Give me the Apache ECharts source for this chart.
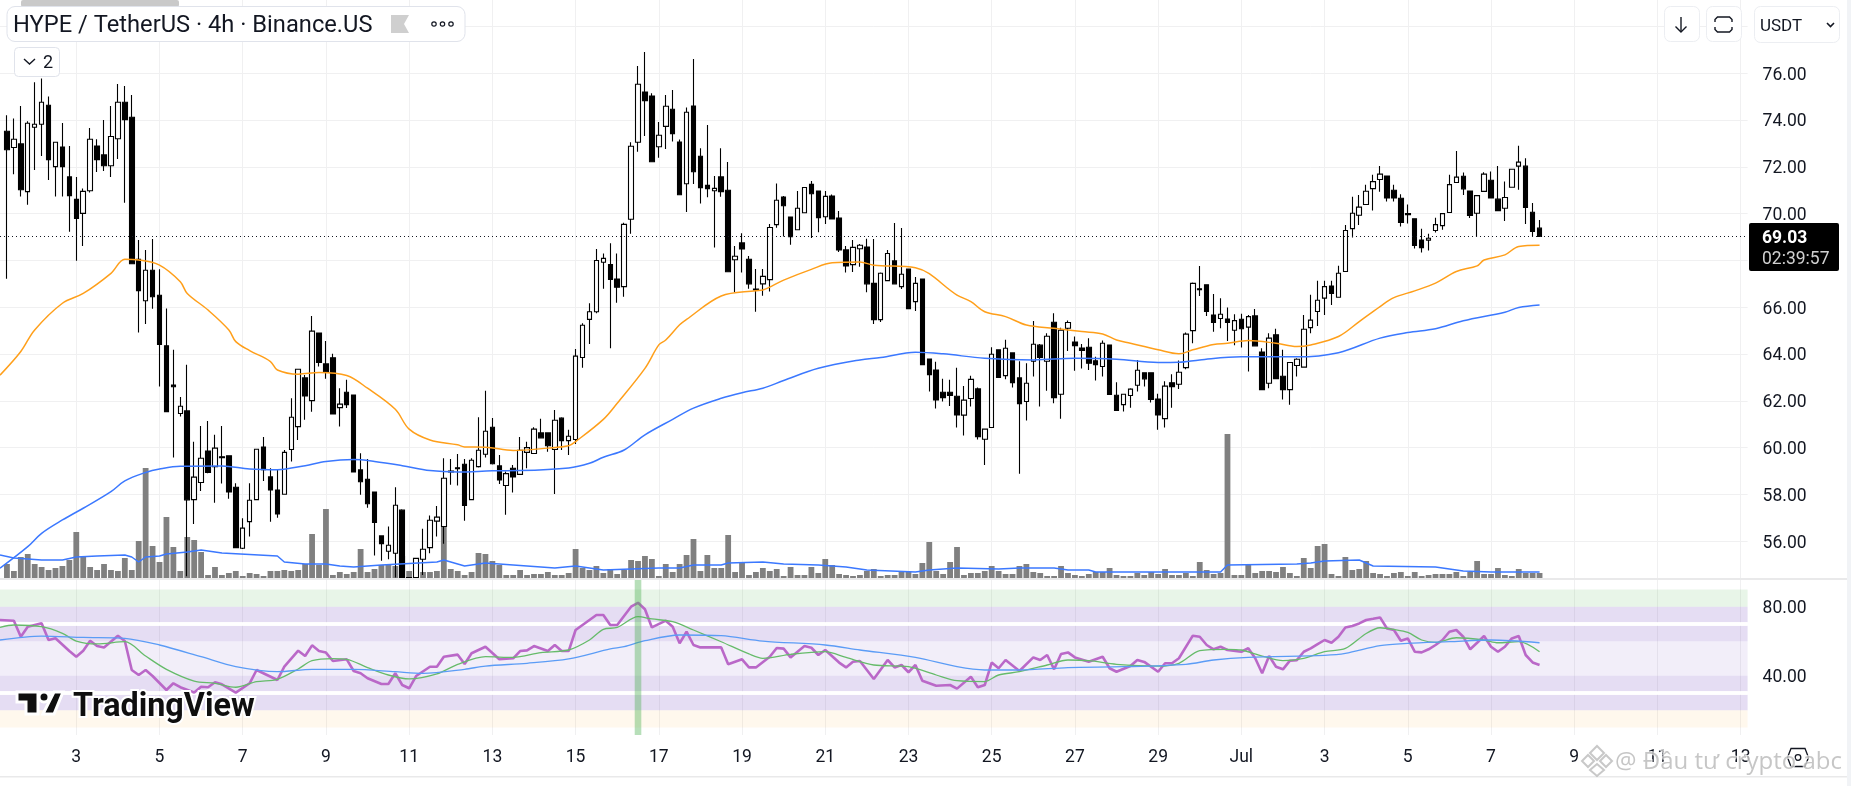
<!DOCTYPE html>
<html><head><meta charset="utf-8">
<style>html,body{margin:0;padding:0;background:#fff;overflow:hidden}#c{width:1851px;height:786px}</style>
<script src="https://cdn.jsdelivr.net/npm/echarts@6/dist/echarts.min.js"></script>
</head><body><div id="c"></div>
<script>
// x ticks: one label every 12 bars (2 days); bar number 0 sits on the first label
const tickLabels=['3','5','7','9','11','13','15','17','19','21','23','25','27','29','Jul','3','5','7','9','11','13'];
const priceTicks=[56,58,60,62,64,66,68,70,72,74,76,78];
const rsiTicks=[40,80];
const lastPrice=69.03, countdown='02:39:57', spotBar=81;
const firstBar=-10;
const opens=[73.52,72.83,72.98,70.94,73.69,73.82,74.63,72.01,72.85,71.57,
70.61,70.01,70.98,72.89,72.51,72.05,73.20,74.76,74.12,68.05,
66.28,67.58,66.51,64.35,62.68,61.46,61.57,57.78,58.51,59.86,
59.19,59.61,59.65,58.31,55.70,56.84,57.78,60.03,58.75,58.19,
58.01,59.92,60.90,62.98,62.01,64.90,63.58,63.84,61.71,62.37,
62.25,59.05,58.65,58.10,56.23,55.57,55.49,57.33,54.45,54.45,
55.23,55.73,56.86,56.63,59.00,59.14,59.29,57.78,59.19,59.72,
60.87,59.22,58.38,59.12,58.86,59.80,59.75,60.63,60.63,59.92,
61.26,60.30,60.35,63.85,65.48,65.81,67.92,67.83,67.21,66.88,
69.76,73.05,75.20,75.03,72.86,73.73,74.46,73.06,71.28,74.60,
72.45,71.21,70.98,71.57,71.00,68.03,68.75,68.05,66.78,67.00,
67.18,69.53,70.71,69.86,69.31,70.04,71.25,70.97,69.87,70.75,
69.81,68.45,67.82,68.50,68.57,67.02,65.47,67.14,67.98,66.88,
67.63,66.24,67.21,63.79,63.32,62.37,62.37,62.20,61.39,62.10,
62.51,60.36,60.86,64.18,63.08,64.05,62.98,61.97,63.69,64.38,
63.69,65.36,62.28,65.10,64.51,64.26,64.29,63.71,63.47,64.39,
62.24,61.84,62.23,62.67,63.20,63.20,62.08,61.24,62.77,62.71,
63.42,65.00,66.79,66.96,65.67,65.52,65.50,65.02,65.49,65.15,
65.63,64.09,62.75,64.82,63.05,62.48,63.51,63.44,65.13,65.82,
66.39,66.91,66.43,67.53,69.36,69.93,70.39,71.07,71.46,71.61,
71.00,70.66,70.00,69.78,68.87,68.87,69.28,69.49,70.05,71.33,
71.60,70.97,70.02,70.95,71.43,70.62,70.23,71.13,72.03,72.03,70.06,69.38];
const closes=[72.73,73.18,71.02,73.86,73.82,74.76,72.31,73.05,72.01,70.77,
69.79,70.95,73.18,72.31,72.05,73.30,74.76,74.02,67.86,66.71,
67.58,66.45,64.41,61.54,62.60,61.77,57.77,58.74,59.55,58.94,
59.98,59.57,58.11,55.73,56.56,57.75,59.93,59.06,58.19,57.17,
59.80,61.30,63.35,62.21,64.98,63.64,63.24,61.44,61.86,61.84,
58.96,58.54,57.60,56.80,55.90,55.83,57.54,54.45,54.44,55.27,
55.66,56.90,57.03,58.69,58.96,59.10,57.53,59.46,59.89,60.70,
59.31,58.62,58.89,58.75,59.89,60.00,60.79,60.42,60.08,61.17,
60.30,60.49,63.91,65.23,65.81,68.00,68.09,67.19,66.86,69.54,
72.88,75.53,74.83,72.22,73.35,74.59,73.42,70.81,74.33,71.79,
71.11,71.07,71.08,70.94,67.52,68.18,68.49,67.00,66.74,67.32,
69.41,70.57,70.34,69.02,70.23,71.12,70.85,69.83,70.74,69.77,
68.45,67.76,68.56,68.65,67.00,65.47,67.45,68.30,67.00,67.41,
65.94,67.02,63.55,63.12,62.04,62.14,62.23,61.40,62.03,62.92,
60.47,60.79,63.99,63.00,64.25,62.78,61.88,62.75,64.42,63.85,
64.76,62.14,65.02,65.35,64.36,64.15,63.61,63.55,64.46,62.27,
61.59,62.28,62.50,63.31,62.94,62.06,61.40,62.63,62.61,63.22,
64.85,67.02,66.75,65.82,65.35,65.70,65.35,65.43,65.08,65.60,
64.35,62.48,64.68,62.95,62.48,63.64,63.78,65.06,65.45,66.30,
66.88,66.59,67.45,69.28,70.02,70.28,70.96,71.37,71.69,70.67,
70.67,69.62,69.96,68.64,68.55,68.95,69.53,70.00,71.24,71.56,
71.06,69.92,70.77,71.69,70.67,70.13,70.69,71.90,72.20,70.26,69.24,69.03];
const lows=[67.22,71.68,70.73,70.38,71.87,72.46,71.44,70.73,70.73,69.23,
67.99,68.62,70.90,71.78,71.82,71.57,72.34,70.47,67.86,64.92,
65.28,65.94,62.61,61.54,59.58,61.33,54.50,56.74,58.15,58.91,
57.65,58.47,57.82,55.73,55.67,56.20,57.78,58.58,56.83,57.00,
58.01,59.41,60.33,61.19,61.53,63.47,62.94,61.44,60.90,61.70,
58.96,57.99,57.43,55.39,55.17,55.23,54.45,54.45,54.44,54.45,
54.56,55.49,56.20,55.89,58.41,58.38,56.88,57.78,59.15,59.58,
59.28,58.45,57.13,58.08,58.86,59.12,59.75,60.42,59.83,58.02,
59.90,59.69,60.16,63.42,64.43,65.74,66.79,64.25,66.19,66.45,
69.14,72.65,73.32,72.22,72.39,72.76,73.08,70.81,70.07,71.27,
70.43,70.70,68.55,70.72,67.52,66.65,67.48,66.79,65.81,66.49,
66.67,69.40,69.02,68.67,69.31,70.04,68.96,69.21,69.56,69.77,
68.36,67.48,67.51,67.73,66.64,65.28,65.37,67.14,67.00,66.78,
65.94,65.84,63.55,62.40,61.67,61.97,61.78,60.86,60.52,61.76,
60.35,59.26,60.86,63.00,62.92,62.57,58.89,61.16,63.04,61.76,
62.43,61.90,61.24,64.13,63.29,63.38,63.32,62.87,63.04,62.27,
61.59,61.54,61.71,62.40,62.61,61.93,60.77,60.86,61.71,62.51,
63.35,64.46,66.48,65.63,64.95,65.10,64.56,64.38,64.28,63.25,
64.35,62.48,62.54,62.95,62.06,61.83,63.04,63.44,64.89,65.20,
65.67,66.10,66.43,67.53,68.98,69.52,70.39,70.13,70.94,70.52,
70.52,69.45,69.58,68.51,68.34,68.42,69.19,69.31,70.05,71.33,
70.80,69.81,69.00,70.95,70.67,70.13,69.69,71.13,71.02,69.56,69.02,69.03];
const highs=[74.20,74.07,74.60,73.95,75.61,75.78,75.01,73.05,73.87,72.89,
71.57,71.08,73.66,73.18,74.00,74.60,75.54,75.46,75.07,68.87,
68.45,68.92,67.62,65.95,64.18,62.16,63.54,60.25,60.93,61.14,
60.55,60.93,59.65,58.48,56.98,58.48,59.93,60.46,59.12,59.09,
59.90,62.11,63.35,63.11,65.63,64.92,64.56,64.01,62.54,62.90,
62.25,59.76,59.51,58.10,56.23,56.63,58.31,57.37,54.45,55.27,
56.53,57.10,57.51,59.55,59.51,59.73,59.51,59.55,61.30,62.43,
61.27,59.69,58.98,59.26,60.46,60.25,60.87,61.24,60.63,61.61,
61.30,60.76,64.22,65.32,66.17,68.49,68.30,68.73,68.30,69.61,
73.05,76.31,76.91,75.14,73.92,75.07,75.28,73.17,74.54,76.61,
72.80,73.79,71.61,72.80,72.21,68.62,69.16,68.19,67.63,67.63,
69.56,71.29,70.75,69.86,70.97,71.12,71.39,70.97,70.97,70.82,
70.11,68.62,68.87,68.70,68.93,68.92,67.48,68.45,69.60,69.39,
67.63,67.29,67.22,63.79,63.67,62.94,62.90,63.41,62.64,63.07,
62.57,60.79,64.29,64.18,64.61,64.05,63.69,63.61,65.41,64.43,
64.89,65.74,65.12,65.43,64.75,64.43,64.68,63.89,64.58,64.39,
62.80,62.30,62.54,63.75,63.20,63.20,62.30,62.84,63.14,63.72,
64.92,67.06,67.76,66.96,66.57,66.39,65.99,65.70,65.72,65.67,
65.93,64.25,64.89,65.08,64.18,63.64,63.82,65.67,66.53,67.13,
67.13,67.13,67.77,69.52,70.72,70.80,71.23,71.66,72.04,71.61,
71.23,70.83,70.39,69.78,69.35,69.14,69.83,70.02,71.66,72.68,
71.76,70.97,70.80,71.77,71.80,72.04,71.37,71.90,72.90,72.37,70.46,69.73];
const volumes=[14,7,21,24,14,11,8,10,12,18,
46,21,11,8,14,8,7,20,8,37,
110,32,16,61,31,7,41,38,26,3,
11,3,5,7,2,5,4,2,7,7,
8,7,8,14,44,13,69,3,6,4,
6,29,6,9,13,13,12,22,7,13,
6,6,7,53,9,7,3,6,25,24,
17,13,3,3,8,3,4,4,6,3,
3,5,29,10,8,12,
5,9,4,8,18,17,22,19,2,14,6,14,23,39,7,23,10,10,43,6,16,3,6,10,
7,9,2,11,3,3,11,5,19,13,4,3,2,3,7,9,2,3,3,7,6,4,15,36,7,4,16,31,3,5,
5,7,12,7,4,4,12,14,6,5,2,2,12,5,3,2,4,6,6,10,3,2,2,5,3,6,4,9,3,3,
5,2,16,8,4,5,144,3,3,13,5,7,7,6,11,5,2,20,10,32,34,4,2,21,8,9,17,5,4,2,
5,6,2,6,2,3,4,4,4,6,2,6,17,4,4,10,3,2,9,5,5,5];
// moving averages and RSI, read at the bar numbers listed beside them
const fastBars=[-11,-8,-6,-2,1,5,7,9,12,15,16,19,22,23,25,28,29,32,35,39,42,46,48,51,55,56,59,63,68,71,72,76,78,82,84,85,87,88,93,98,99,102,106,109,113,115,121,127,129,131,134,137,141,145,148,150,152,156,159,161,164,166,169,173,176,178,182,185,188,190,193,196,199,202,203,206,208,211];
const fastVals=[63.1,64.11,65.03,66.17,66.59,67.45,68.05,68.02,67.8,67.09,66.59,65.88,65.03,64.53,64.15,63.68,63.32,63.14,63.21,63.08,62.54,61.64,60.79,60.33,60.12,60.03,60.02,59.88,59.98,60.08,60.26,61.21,61.9,63.39,64.39,64.6,65.25,65.48,66.48,66.71,66.74,67.16,67.62,67.9,67.93,67.8,67.69,66.52,66.24,65.81,65.6,65.24,65.1,64.96,64.86,64.6,64.46,64.18,64.01,64.18,64.41,64.46,64.58,64.46,64.32,64.39,64.75,65.39,66.03,66.41,66.7,67.03,67.53,67.77,68.02,68.24,68.6,68.65];
const slowBars=[-11,-7,-5,-2,1,5,7,10,12,15,21,25,29,33,36,40,43,47,51,55,60,64,71,74,76,79,82,86,89,93,96,99,102,107,113,116,121,125,131,138,144,150,156,159,162,168,176,182,188,192,196,200,206,208,211];
const slowVals=[54.85,55.77,56.34,56.91,57.41,58.12,58.58,58.94,59.09,59.21,59.22,59.09,59.06,59.23,59.41,59.49,59.41,59.23,59.02,58.96,59.01,59.02,59.13,59.33,59.59,59.9,60.55,61.21,61.69,62.11,62.35,62.54,62.87,63.39,63.75,63.85,64.08,64.01,63.82,63.75,63.82,63.78,63.64,63.65,63.75,63.88,63.88,64.06,64.68,64.92,65.08,65.42,65.79,65.99,66.1];
const volMaBars=[-11,-9,-7,-5,-2,0,3,7,8,9,10,12,13,16,18,21,29,30,33,36,38,40,44,52,53,56,59,63,69,72,74,76,84,87,89,93,94,99,102,107,111,114,121,123,127,133,136,141,143,146,147,155,162,165,166,176,178,180,185,187,196,200,204,211];
const volMaVals=[23,20,19,18,18,21,22,23,21,16,21,22,24,26,28,25,22,16,14,14,12,11,13,16,18,12,15,13,10,12,10,8,10,10,13,13,15,16,14,13,11,8,6,8,10,9,10,10,8,8,6,6,6,6,13,14,15,17,18,12,11,7,6,6];
const rsiBars=[-11,-9,-8,-7,-5,-4,-3,-1,0,1,2,3,4,6,7,8,9,10,11,13,14,15,17,18,19,20,21,23,25,26,29,30,32,33,34,35,36,37,39,40,41,42,44,45,46,47,48,49,51,52,53,55,56,57,59,61,63,64,65,66,68,69,70,71,72,73,75,76,77,78,80,81,82,83,85,86,87,88,89,90,93,94,96,97,98,100,101,102,103,105,106,107,108,110,111,112,113,115,117,118,119,120,121,122,124,126,127,129,130,131,132,133,134,136,138,139,140,141,142,143,144,146,148,149,150,152,153,154,156,157,158,159,161,162,163,164,165,166,168,169,170,171,172,173,174,175,176,177,178,179,180,181,182,183,184,185,186,187,188,189,190,191,192,193,194,195,196,197,198,199,200,201,202,203,204,205,206,207,208,209,210,211];
const rsiVals=[72.3,71.9,62.6,68.4,70.4,60.7,61.7,54.3,51,54.5,60.3,57.2,56.4,63.2,60.1,43.3,40.4,43.3,39.8,31.7,35.6,33.3,30.2,33.6,33.3,36.2,35,30.2,35.6,43.3,37.5,45.2,54.5,51.4,57.6,54.3,53.4,48.5,49.5,42.7,41.4,38.5,35.2,35.2,41.4,34.6,32.7,39.8,45.2,45.2,51,52.2,46.8,53,56.8,49.5,50.1,54.3,54.7,57.2,54.3,57.8,54.3,54.3,66.5,69.4,75.2,75.2,69.4,69.4,80,82.3,78.5,68,71.9,68.4,58.8,65.5,57.8,56.4,56.4,46.6,49.5,44.8,44.8,51,56.1,55.7,50.6,57.2,56.2,52,54.9,47.6,44.8,48.1,48.5,38.1,49.1,44.8,46.2,42,46.2,37.1,34.2,34.6,32.5,39.4,33.3,34.6,47.6,44.3,49.1,42.7,50.6,49.1,52,43.7,52.6,53.5,50.6,48.1,51,44.3,42.3,45.6,49.1,48,42.3,47.2,47.2,50.1,63.2,62.6,57.8,55.3,56.8,54.9,53.9,55.9,50.1,41.4,51.4,45.2,43.7,48.7,49,53.9,55.8,58.3,60.7,59.1,62.6,68,68.8,70.3,72.3,73,73.8,67.4,66.5,60.3,61.6,53.9,53.5,55.3,57.8,60.7,65.5,66.5,62.6,55.3,59.1,63,56.8,53.9,56.8,61.6,63,52,47.7,46.2];
const rsiMaBars=[-11,-9,-5,-2,0,3,7,10,13,17,20,23,26,29,32,34,37,39,42,45,48,52,55,59,63,67,71,74,76,78,81,83,86,89,93,97,99,103,108,111,115,120,124,127,131,133,136,140,143,146,150,156,159,162,166,168,171,174,177,180,183,186,188,190,192,194,196,199,203,205,208,211];
const rsiMaVals=[68,69.4,68.4,64.6,60.1,58.4,59.7,51.4,43.7,36.9,35.6,33.3,36.5,37.9,43.9,48.7,49.9,49.5,44.7,40.4,38.1,41,46.6,51,50.6,53.4,54.9,60.7,66.9,68,74.2,72.9,71.3,66.5,59.7,52.6,50.1,52.4,53.9,50.6,46.2,45.2,40.4,37.1,36.6,40.4,42.3,46.2,49.1,48.7,46.6,45.6,47.2,54.5,55.3,54.9,51.4,48.7,50,53.9,55.8,64.5,67.8,66.8,65.1,60.7,59.3,62,60.7,59.1,59.7,53.9];
const rsiLongBars=[-11,-5,1,7,12,18,23,29,34,40,46,50,56,59,65,71,77,79,82,87,93,99,108,113,121,127,131,136,143,151,160,164,169,180,183,188,192,198,204,211];
const rsiLongVals=[60.7,63,62.2,61.7,57.8,51,45.2,42.3,43.7,43.7,42.3,41.4,43.7,45.6,47.2,49.7,55.5,56.8,60.3,63.6,63.2,60.1,57.8,54.9,50.6,45.2,43.3,43.3,44.7,45.2,46.6,49.1,50.6,51.8,52.9,57.4,58.7,59.7,60.7,59.1];
// RSI bands [from, to]
const bandGreen=[80,90], bandOrange=[10,20], bandLight=[40,60], bandsPurple=[[71,80],[60,69],[31,40],[20,29]], bandsGap=[[69,71],[29,31]];

const SLOTS=253, OFFSET=11;            // slot = bar number + OFFSET
const slot=k=>k+OFFSET;
const categories=new Array(SLOTS).fill('');
tickLabels.forEach((t,j)=>{categories[OFFSET+12*j]=t});
const isTick=i=>(i-OFFSET)%12===0;
const pairs=(xs,ys)=>xs.map((k,i)=>[slot(k),ys[i]]);
const FONT='Roboto, "Liberation Sans", sans-serif', INK='#131722', GRID='#f0f0f1';

const L=-1.76, W=1749.36;
const xBase=(g,extra)=>Object.assign({type:'category',gridIndex:g,data:categories,boundaryGap:false,
  axisLine:{show:false},axisTick:{show:false},axisLabel:{show:false},splitLine:{show:false}},extra);
const band=(v,c)=>[{yAxis:v[0],itemStyle:{color:c}},{yAxis:v[1]}];
const purple='rgba(126,87,194,0.2)';

const poly=(pts,color,w,z)=>({type:'polyline',z:z||100,shape:{points:pts},style:{stroke:color||INK,lineWidth:w||1.4,fill:null}});
const box=(x,y,w,h,r,fill,stroke,z)=>({type:'rect',z:z||90,shape:{x,y,width:w,height:h,r},style:{fill:fill||'#fff',stroke:stroke||null,lineWidth:1}});
const txt=(x,y,t,size,color,weight,align,z)=>({type:'text',z:z||100,x,y,style:{text:t,fontFamily:FONT,fontSize:size,fill:color||INK,fontWeight:weight||'normal',align:align||'left',verticalAlign:'middle'}});

const graphics=[
 // pane separators and frame
 box(0,578,1851,2,0,'#e9e9ea'),
 box(0,776,1851,1.5,0,'#e9e9ea'),
 box(1847,0,4,786,0,'#f1f3f6'),
 // symbol header
 box(21,0,158,7,2,'#c9c9c9'),
 {type:'polygon',z:90,shape:{points:[[94,7],[106,7],[100,10]]},style:{fill:'#c9c9c9'}},
 box(7,6.5,458,35,8,'#fff','#e0e3eb'),
 txt(13,26.5,'HYPE / TetherUS · 4h · Binance.US',23.7),
 {type:'polygon',z:100,shape:{points:[[391,15],[409,15],[404,24],[409,33],[391,33]]},style:{fill:'#cfcfcf'}},
 {type:'circle',z:100,shape:{cx:434,cy:24,r:2.2},style:{fill:'#fff',stroke:INK,lineWidth:1.2}},
 {type:'circle',z:100,shape:{cx:442.5,cy:24,r:2.2},style:{fill:'#fff',stroke:INK,lineWidth:1.2}},
 {type:'circle',z:100,shape:{cx:451,cy:24,r:2.2},style:{fill:'#fff',stroke:INK,lineWidth:1.2}},
 box(14.5,47.5,45,29,4,'#fff','#e0e3eb'),
 poly([[24,59],[29.5,64],[35,59]]),
 txt(43,63.5,'2',18),
 // right top buttons
 box(1664.5,6.5,35,35,6,'#fff','#eceef2'),
 poly([[1681,17],[1681,32]]),poly([[1675.5,26.5],[1681,32],[1686.5,26.5]]),
 box(1706.5,6.5,35,35,6,'#fff','#eceef2'),
 poly([[1715,22],[1715,19.5],[1717.5,17],[1729.5,17],[1732,19.5],[1732,22]]),
 poly([[1715,27],[1715,29.5],[1717.5,32],[1729.5,32],[1732,29.5],[1732,27]]),
 box(1754.5,6.5,85,36,6,'#fff','#eceef2'),
 txt(1760,27,'USDT',17),
 poly([[1827,23],[1830.5,26.5],[1834,23]],INK,1.6),
 // last price tag
 box(1749,223,90,48,2,'#000'),
 txt(1762,238.5,lastPrice.toFixed(2),17.5,'#fff','bold'),
 txt(1762,260,countdown,17.5,'#d0d0d0'),
 // TradingView logo
 {type:'polygon',z:95,shape:{points:[[17,692],[38,692],[38,714],[26,714],[26,702],[17,702]]},style:{fill:'#0f0f0f',stroke:'#fff',lineWidth:3}},
 {type:'circle',z:95,shape:{cx:44,cy:697,r:5},style:{fill:'#0f0f0f',stroke:'#fff',lineWidth:3}},
 {type:'polygon',z:95,shape:{points:[[54,692],[63,692],[54,714],[43,714]]},style:{fill:'#0f0f0f',stroke:'#fff',lineWidth:3}},
 {type:'text',z:95,x:73,y:708,style:{text:'TradingView',fontFamily:'Roboto, sans-serif',fontWeight:'bold',fontSize:32.3,fill:'#0f0f0f',stroke:'#fff',lineWidth:4,verticalAlign:'middle'}},
 // settings hexagon
 {type:'polygon',z:100,shape:{points:[[1791,748.5],[1805,748.5],[1808.5,757.5],[1805,766.5],[1791,766.5],[1787.5,757.5]]},style:{fill:'#fff',stroke:INK,lineWidth:1.3}},
 {type:'circle',z:100,shape:{cx:1798,cy:757.5,r:2.8},style:{fill:'#fff',stroke:INK,lineWidth:1.3}},
 // source watermark
 {type:'polygon',z:105,shape:{points:[[1597,746],[1604,753],[1597,760],[1590,753]]},style:{fill:'none',stroke:'rgba(170,170,170,.65)',lineWidth:2}},
 {type:'polygon',z:105,shape:{points:[[1588,755],[1594,761],[1588,767],[1582,761]]},style:{fill:'none',stroke:'rgba(170,170,170,.65)',lineWidth:2}},
 {type:'polygon',z:105,shape:{points:[[1606,755],[1612,761],[1606,767],[1600,761]]},style:{fill:'none',stroke:'rgba(170,170,170,.65)',lineWidth:2}},
 {type:'polygon',z:105,shape:{points:[[1597,764],[1604,770],[1597,776],[1590,770]]},style:{fill:'none',stroke:'rgba(170,170,170,.65)',lineWidth:2}},
 {type:'text',z:105,x:1615,y:762,style:{text:'@ Đầu tư crypto abc',fontFamily:'"Open Sans", sans-serif',fontSize:24,fill:'rgba(160,160,160,.6)',stroke:'rgba(255,255,255,.7)',lineWidth:2,verticalAlign:'middle'}}
];

const option={
 animation:false,backgroundColor:'#fff',
 grid:[
  {left:L,width:W,top:0,height:578},
  {left:L,width:W,top:0,height:578},
  {left:L,width:W,top:580,height:155}
 ],
 xAxis:[
  xBase(0,{show:false}),
  xBase(1,{splitLine:{show:true,interval:isTick,lineStyle:{color:GRID,width:1}}}),
  xBase(2,{splitLine:{show:true,interval:isTick,lineStyle:{color:'rgba(40,40,60,0.07)',width:1}},
    axisLabel:{show:true,interval:isTick,margin:14,color:INK,fontFamily:FONT,fontSize:17.5,hideOverlap:false}})
 ],
 yAxis:[
  {type:'value',gridIndex:0,position:'right',min:54.43,max:79.13,scale:true,axisLine:{show:false},
   axisTick:{show:false,customValues:priceTicks},
   axisLabel:{customValues:priceTicks,margin:15,verticalAlign:'top',lineHeight:4,color:INK,fontFamily:FONT,fontSize:17.5,formatter:v=>v.toFixed(2)},
   splitLine:{show:true,lineStyle:{color:GRID,width:1}}},
  {type:'value',gridIndex:1,show:false,min:0,max:578,splitLine:{show:false}},
  {type:'value',gridIndex:2,position:'right',min:5.6,max:95.5,scale:true,axisLine:{show:false},
   axisTick:{show:false,customValues:rsiTicks},
   axisLabel:{customValues:rsiTicks,margin:15,verticalAlign:'top',lineHeight:4,color:INK,fontFamily:FONT,fontSize:17.5,formatter:v=>v.toFixed(2)},
   splitLine:{show:false}}
 ],
 series:[
  {type:'bar',name:'Volume',xAxisIndex:1,yAxisIndex:1,z:1,barWidth:5.8,itemStyle:{color:'#808080'},
   data:volumes.map((v,i)=>[slot(firstBar+i),v])},
  {type:'candlestick',name:'HYPE',xAxisIndex:0,yAxisIndex:0,z:2,barWidth:5,clip:true,
   encode:{x:0,y:[1,2,3,4]},
   itemStyle:{color:'#fff',color0:'#000',borderColor:'#000',borderColor0:'#000',borderWidth:1.1},
   data:opens.map((o,i)=>[slot(firstBar+i),o,closes[i],lows[i],highs[i]]),
   markLine:{silent:true,symbol:'none',animation:false,label:{show:false},
     lineStyle:{color:'#131722',type:[1,3],width:1},data:[{yAxis:lastPrice}]}},
  {type:'line',name:'MA fast',xAxisIndex:0,yAxisIndex:0,z:3,symbol:'none',smooth:0.35,lineStyle:{color:'#ff9f1a',width:1.5},data:pairs(fastBars,fastVals)},
  {type:'line',name:'MA slow',xAxisIndex:0,yAxisIndex:0,z:3,symbol:'none',smooth:0.35,lineStyle:{color:'#3b78ff',width:1.5},data:pairs(slowBars,slowVals)},
  {type:'line',name:'Volume MA',xAxisIndex:1,yAxisIndex:1,z:4,symbol:'none',lineStyle:{color:'#3b78ff',width:1.5},data:pairs(volMaBars,volMaVals)},
  {type:'line',name:'RSI bands',xAxisIndex:2,yAxisIndex:2,z:1,symbol:'none',data:[],
   markArea:{silent:true,data:[band(bandGreen,'rgba(76,175,80,0.13)'),band(bandOrange,'rgba(255,152,0,0.07)'),band(bandLight,'rgba(126,87,194,0.1)')].concat(bandsPurple.map(b=>band(b,purple)))}},
  {type:'line',name:'RSI',xAxisIndex:2,yAxisIndex:2,z:3,symbol:'none',lineStyle:{color:'#ba68c8',width:2.6},data:pairs(rsiBars,rsiVals)},
  {type:'line',name:'RSI MA',xAxisIndex:2,yAxisIndex:2,z:4,symbol:'none',smooth:0.3,lineStyle:{color:'#66bb6a',width:1.3},data:pairs(rsiMaBars,rsiMaVals)},
  {type:'line',name:'RSI long',xAxisIndex:2,yAxisIndex:2,z:4,symbol:'none',smooth:0.3,lineStyle:{color:'#5b9cf6',width:1.3},data:pairs(rsiLongBars,rsiLongVals)},
  {type:'line',name:'RSI gaps',xAxisIndex:2,yAxisIndex:2,z:5,symbol:'none',data:[],
   markArea:{silent:true,data:bandsGap.map(b=>band(b,'#fff'))}},
  {type:'bar',name:'Signal',xAxisIndex:2,yAxisIndex:2,z:6,barWidth:6.6,itemStyle:{color:'rgba(76,175,80,0.4)'},data:[[slot(spotBar),95.5]]}
 ],
 graphic:{elements:graphics}
};
const chart=echarts.init(document.getElementById('c'),null,{renderer:'canvas'});
chart.setOption(option);
</script></body></html>
